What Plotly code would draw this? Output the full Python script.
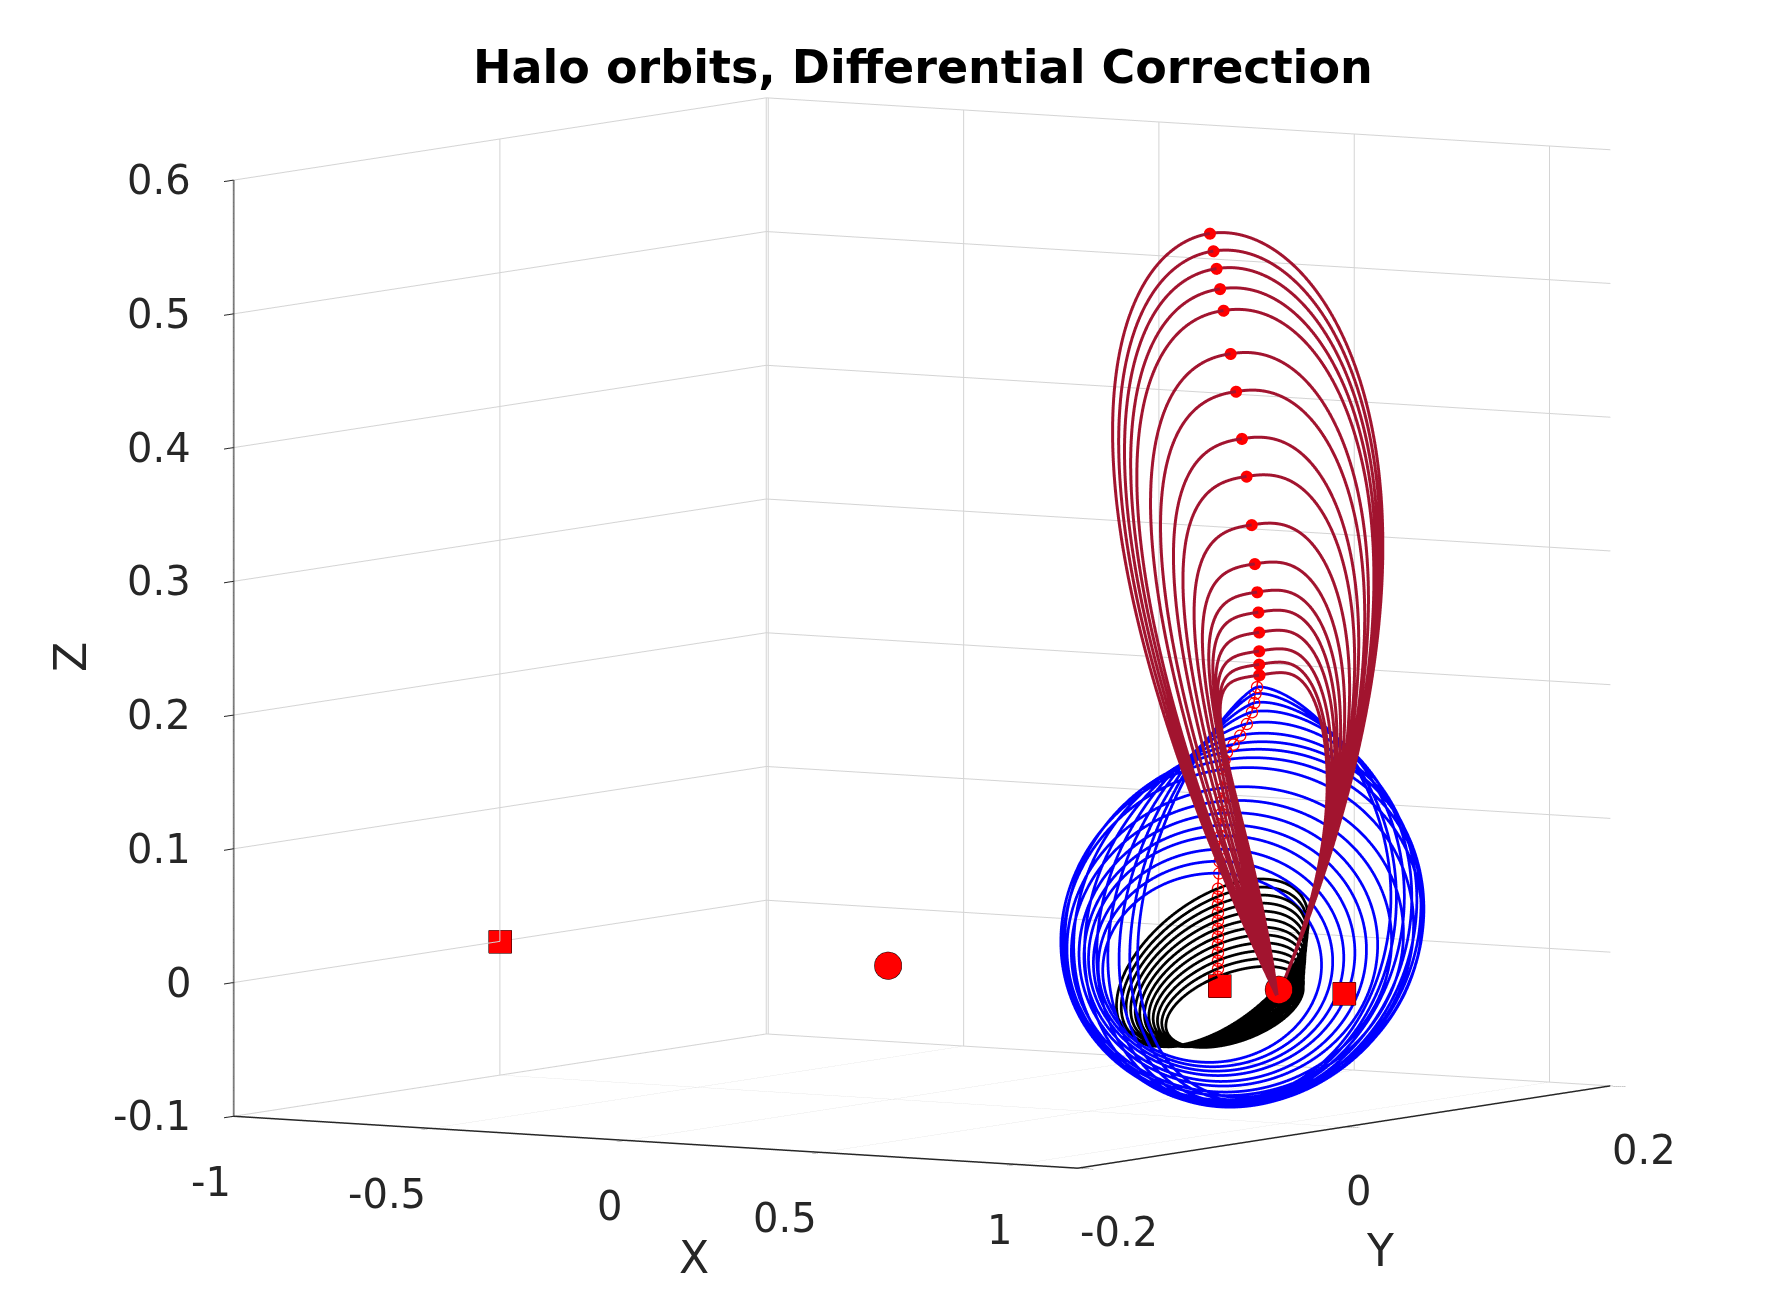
import numpy as np
import plotly.graph_objects as go

# Earth-Moon rotating frame (nondimensional)
body_names = ["Earth", "Moon"]
body_x = [-0.01215, 0.98785]
lagrange_names = ["L1", "L2", "L3"]
lagrange_x = [0.8369, 1.1557, -1.0051]

# large (red) orbits: apex crossing, shared perilune crossing, half width in y
red_apex_x = [0.812, 0.821, 0.829, 0.838, 0.847, 0.865, 0.879, 0.894, 0.906,
              0.919, 0.927, 0.933, 0.936, 0.938, 0.938, 0.938, 0.938]
red_apex_z = [0.562, 0.549, 0.536, 0.521, 0.505, 0.473, 0.445, 0.410, 0.382,
              0.346, 0.317, 0.296, 0.281, 0.266, 0.252, 0.242, 0.234]
red_half_width = [0.098, 0.095, 0.092, 0.089, 0.086, 0.079, 0.074, 0.067, 0.062,
                  0.056, 0.051, 0.047, 0.044, 0.042, 0.040, 0.038, 0.037]
red_top_shape = [0.50, 0.49, 0.48, 0.47, 0.46, 0.44, 0.42, 0.40, 0.38,
                 0.36, 0.34, 0.32, 0.30, 0.29, 0.27, 0.26, 0.24]
red_base_x = 0.985
red_base_z = -0.006
red_bow = 0.045

# intermediate (blue) orbits
blue_apex_x = [0.932, 0.928, 0.925, 0.919, 0.906, 0.889, 0.872, 0.855, 0.849,
               0.847, 0.845, 0.842, 0.841, 0.840, 0.838, 0.837, 0.836, 0.835]
blue_apex_z = [0.225, 0.220, 0.213, 0.206, 0.197, 0.188, 0.181, 0.175, 0.169,
               0.162, 0.148, 0.138, 0.129, 0.120, 0.112, 0.102, 0.093, 0.084]
blue_base_x = [0.965, 0.963, 0.960, 0.957, 0.955, 0.952, 0.950, 0.945, 0.937,
               0.924, 0.909, 0.893, 0.878, 0.863, 0.847, 0.832, 0.817, 0.801]
blue_base_z = [-0.078, -0.080, -0.082, -0.084, -0.085, -0.086, -0.086, -0.084, -0.084,
               -0.083, -0.080, -0.078, -0.074, -0.071, -0.067, -0.064, -0.061, -0.058]
blue_half_width = [0.095, 0.100, 0.107, 0.114, 0.120, 0.126, 0.131, 0.134, 0.135,
                   0.131, 0.126, 0.120, 0.112, 0.106, 0.100, 0.094, 0.088, 0.082]
blue_top_shape = [0.72, 0.70, 0.66, 0.62, 0.58, 0.55, 0.52, 0.50, 0.50,
                  0.50, 0.50, 0.50, 0.50, 0.50, 0.50, 0.50, 0.50, 0.50]
blue_tilt = [0.14, 0.13, 0.12, 0.10, 0.08, 0.06, 0.04, 0.02, 0.00,
             -0.02, -0.04, -0.06, -0.08, -0.10, -0.12, -0.14, -0.16, -0.18]

# small (black) orbits
black_apex_x = [0.832, 0.832, 0.832, 0.832, 0.832, 0.832,
                0.832, 0.832, 0.832, 0.832, 0.832, 0.832]
black_apex_z = [0.0725, 0.0665, 0.0605, 0.0545, 0.0485, 0.0425,
                0.0365, 0.0306, 0.0246, 0.0186, 0.0126, 0.0066]
black_base_x = [0.806, 0.816, 0.827, 0.837, 0.847, 0.857,
                0.868, 0.878, 0.888, 0.898, 0.909, 0.919]
black_base_z = [-0.039, -0.039, -0.038, -0.038, -0.038, -0.038,
                -0.038, -0.037, -0.037, -0.037, -0.037, -0.037]
black_half_width = [0.072, 0.070, 0.068, 0.066, 0.064, 0.062,
                    0.060, 0.058, 0.056, 0.054, 0.052, 0.050]
black_tilt = 0.25

x_range = [-1.0051, 1.1557]
y_range = [-0.2, 0.2]
z_range = [-0.1, 0.6]
x_ticks = [-1, -0.5, 0, 0.5, 1]
x_ticklabels = ["-1", "-0.5", "0", "0.5", "1"]
y_ticks = [-0.2, 0, 0.2]
y_ticklabels = ["-0.2", "0", "0.2"]
z_ticks = [-0.1, 0, 0.1, 0.2, 0.3, 0.4, 0.5, 0.6]
z_ticklabels = ["-0.1", "0", "0.1", "0.2", "0.3", "0.4", "0.5", "0.6"]

TEXT = "#262626"


def orbit_curve(xa, za, xb, zb, w, top=0.5, bottom=0.5, tilt=0.0, bow=0.0, n=300):
    # closed loop symmetric in y, from apex crossing (s=0) to far crossing (s=1)
    tau = np.linspace(0, 2 * np.pi, n)
    s = np.sin(tau / 2) ** 2
    prof = s ** top * (1 - s) ** bottom
    prof = prof / prof.max()
    y = w * prof * np.sign(np.sin(tau))
    x = xa + (xb - xa) * s + bow * 4 * s * (1 - s)
    z = za + (zb - za) * s + tilt * y
    return x, y, z


fig = go.Figure()

for i in range(len(black_apex_x)):
    x, y, z = orbit_curve(black_apex_x[i], black_apex_z[i], black_base_x[i],
                          black_base_z[i], black_half_width[i], tilt=black_tilt)
    fig.add_trace(go.Scatter3d(x=x, y=y, z=z, mode="lines",
                               line=dict(color="#000000", width=5.5)))

for i in range(len(blue_apex_x)):
    x, y, z = orbit_curve(blue_apex_x[i], blue_apex_z[i], blue_base_x[i],
                          blue_base_z[i], blue_half_width[i], top=blue_top_shape[i],
                          tilt=blue_tilt[i])
    fig.add_trace(go.Scatter3d(x=x, y=y, z=z, mode="lines",
                               line=dict(color="#0000FF", width=5.5)))

for i in range(len(red_apex_x)):
    x, y, z = orbit_curve(red_apex_x[i], red_apex_z[i], red_base_x, red_base_z,
                          red_half_width[i], top=red_top_shape[i], bottom=1.0,
                          bow=red_bow)
    fig.add_trace(go.Scatter3d(x=x, y=y, z=z, mode="lines",
                               line=dict(color="#A2142F", width=6)))

# initial conditions from the continuation
trail_x = [red_apex_x[-1]] + blue_apex_x + black_apex_x
trail_z = [red_apex_z[-1]] + blue_apex_z + black_apex_z
fig.add_trace(go.Scatter3d(x=trail_x, y=[0] * len(trail_x), z=trail_z,
                           mode="lines+markers",
                           line=dict(color="#FF0000", width=3),
                           marker=dict(symbol="circle-open", size=7, color="#FF0000")))
fig.add_trace(go.Scatter3d(x=red_apex_x, y=[0] * len(red_apex_x), z=red_apex_z,
                           mode="markers",
                           marker=dict(symbol="circle", size=7, color="#FF0000")))

fig.add_trace(go.Scatter3d(x=lagrange_x, y=[0] * 3, z=[0] * 3, mode="markers",
                           marker=dict(symbol="square", size=12, color="#FF0000",
                                       line=dict(color="#000000", width=1.5))))
fig.add_trace(go.Scatter3d(x=body_x, y=[0] * 2, z=[0] * 2, mode="markers",
                           marker=dict(symbol="circle", size=16, color="#FF0000",
                                       line=dict(color="#000000", width=1.5))))


def axis_style(rng, vals):
    return dict(
        range=rng, autorange=False,
        tickvals=vals, showticklabels=False, title=dict(text=""),
        showgrid=True, gridcolor="#D4D4D4", gridwidth=2,
        showline=True, linecolor=TEXT, linewidth=3,
        ticks="outside", ticklen=18, tickwidth=2, tickcolor=TEXT,
        zeroline=False, showbackground=False, showspikes=False,
    )


# tick labels placed at the tick positions of the front edges
tick_font = dict(family="DejaVu Sans", size=40, color=TEXT)
scene_labels = []
for v, t in zip(x_ticks, x_ticklabels):
    scene_labels.append(dict(x=v, y=y_range[0], z=z_range[0], text=t, showarrow=False,
                             xanchor="right", yanchor="middle", xshift=-3, yshift=-66,
                             font=tick_font))
for v, t in zip(y_ticks, y_ticklabels):
    scene_labels.append(dict(x=x_range[1], y=v, z=z_range[0], text=t, showarrow=False,
                             xanchor="left", yanchor="middle", xshift=0, yshift=-64,
                             font=tick_font))
for v, t in zip(z_ticks, z_ticklabels):
    scene_labels.append(dict(x=x_range[0], y=y_range[0], z=v, text=t, showarrow=False,
                             xanchor="right", yanchor="middle", xshift=-41, yshift=0,
                             font=tick_font))

label_font = dict(family="DejaVu Sans", size=44, color=TEXT)
axis_titles = [
    dict(text="X", x=0.3852, y=0.048, xref="paper", yref="paper", showarrow=False,
         xanchor="center", yanchor="middle", font=label_font),
    dict(text="Y", x=0.7704, y=0.054, xref="paper", yref="paper", showarrow=False,
         xanchor="center", yanchor="middle", font=label_font),
    dict(text="Z", x=0.0348, y=0.5057, xref="paper", yref="paper", showarrow=False,
         xanchor="center", yanchor="middle", textangle=-90, font=label_font),
]

fig.update_layout(
    width=1781, height=1313,
    margin=dict(l=0, r=0, t=0, b=0),
    paper_bgcolor="white",
    showlegend=False,
    title=dict(text="<b>Halo orbits, Differential Correction</b>",
               x=0.5137, y=0.955, xanchor="center", yanchor="middle",
               font=dict(family="DejaVu Sans", size=46, color="#000000")),
    annotations=axis_titles,
    scene=dict(
        domain=dict(x=[0.0266, 1.0], y=[0.048, 1.0]),
        xaxis=axis_style(x_range, x_ticks),
        yaxis=axis_style(y_range, y_ticks),
        zaxis=axis_style(z_range, z_ticks),
        aspectmode="manual",
        aspectratio=dict(x=1.597, y=1.597, z=1.505),
        camera=dict(eye=dict(x=1.062, y=-1.683, z=0.195),
                    center=dict(x=0, y=0, z=0),
                    up=dict(x=0, y=0, z=1),
                    projection=dict(type="orthographic")),
        annotations=scene_labels,
    ),
)

fig.write_html("out.html")
